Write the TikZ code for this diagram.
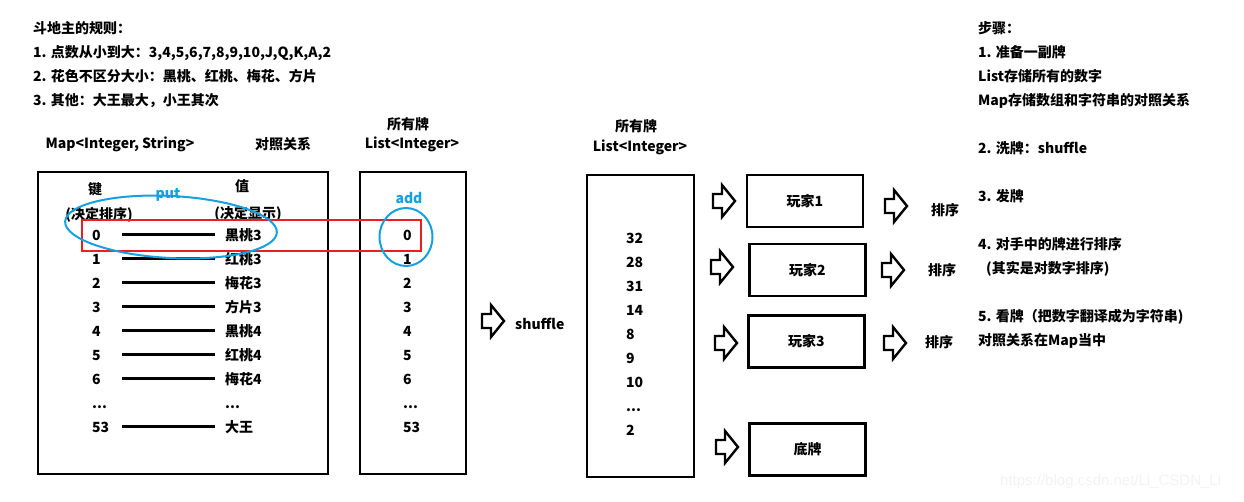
\documentclass[tikz,border=0pt]{standalone}
\usepackage{fontspec}
\setmainfont{Noto Sans CJK SC}
\newfontfamily\markfont{Liberation Sans}
\usetikzlibrary{shapes.geometric}
\definecolor{putblue}{RGB}{20,160,225}
\definecolor{pickred}{RGB}{235,30,40}
\newcommand\etcdots{...}
\tikzset{
  txt/.style = {anchor=base west, inner sep=0pt,
    font=\fontsize{14}{24}\selectfont\bfseries},% left aligned text
  mid/.style = {txt, anchor=center},% centred text
  hint/.style = {mid, text=putblue},% blue remarks
  box/.style = {draw, line width=2.6pt, inner sep=0pt},
  link/.style = {line width=2.6pt},% key -- value
  ring/.style = {ellipse, draw=putblue, line width=2pt},
  pick/.style = {draw=pickred, line width=2pt},
  hollow arrow/.pic = {\draw[line width=2.4pt]
    (-11,-7) -- (-2,-7) -- (-2,-16) -- (11,0) -- (-2,16) -- (-2,7) -- (-11,7) -- cycle;}
}

\begin{document}
\begin{tikzpicture}[x=1pt, y=-1pt]
\useasboundingbox (0,0) rectangle (1244,501);

% rules and steps
\node[txt, align=left, anchor=north west] (rules) at (33,21.5) {斗地主的规则：\\
  1. 点数从小到大：3,4,5,6,7,8,9,10,J,Q,K,A,2\\
  2. 花色不区分大小：黑桃、红桃、梅花、方片\\
  3. 其他：大王最大，小王其次};
\node[txt, align=left, anchor=north west] (steps) at (978,21) {步骤：\\
  1. 准备一副牌\\ List存储所有的数字\\ Map存储数组和字符串的对照关系\\ \mbox{}\\
  2. 洗牌：shuffle\\ \mbox{}\\
  3. 发牌\\ \mbox{}\\
  4. 对手中的牌进行排序\\ \hspace{8pt}(其实是对数字排序)\\ \mbox{}\\
  5. 看牌（把数字翻译成为字符串)\\ 对照关系在Map当中};

% map and ordered list
\node[mid] (maphead) at (120,144) {Map<Integer, String>};
\node[mid] (relhead) at (283,144) {对照关系};
\node[mid] (allA) at (408,124) {所有牌};
\node[mid] (listA) at (412,144) {List<Integer>};
\node[box, minimum width=290, minimum height=302] (map) at (183,323) {};
\node[box, minimum width=106, minimum height=302] (list) at (413,323) {};
\node[mid] (keyhead) at (95,189) {键};
\node[mid] (valhead) at (242,186) {值};
\node[mid] (keynote) at (99,215) {(决定排序)};
\node[mid] (valnote) at (248,214) {(决定显示)};
\node[hint] (put) at (168,195) {put};
\node[hint] (add) at (409,198) {add};
\foreach \k/\v/\y [count=\i] in {0/黑桃3/240, 1/红桃3/264, 2/梅花3/288, 3/方片3/312,
    4/黑桃4/336, 5/红桃4/360, 6/梅花4/384, \etcdots/\etcdots/408, 53/大王/432}{
  \node[txt] (k\i) at (92,\y) {\k};
  \node[txt] (v\i) at (225,\y) {\v};
  \node[txt] (l\i) at (403,\y) {\k};
}
\foreach \i in {1,2,3,4,5,6,7,9}
  \draw[link] ([xshift=30pt,yshift=5.5pt]k\i.base west) -- ([xshift=-10pt,yshift=5.5pt]v\i.base west);
\node[pick, minimum width=339, minimum height=31] (row) at (251.5,235.5) {};
\node[ring, minimum width=212, minimum height=62, rotate=-3] (putring) at (171,227) {};
\node[ring, minimum width=53, minimum height=58] (addring) at (406,237) {};

% shuffled list
\pic at (493,321) {hollow arrow};
\node[txt, anchor=west] (shuffle) at (515,324) {shuffle};
\node[mid] (allB) at (636,126) {所有牌};
\node[mid] (listB) at (640,147) {List<Integer>};
\node[box, minimum width=107, minimum height=302] (mixed) at (640.5,326) {};
\foreach \n [count=\i] in {32,28,31,14,8,9,10,\etcdots,2}
  \node[txt] (m\i) at (626,{243+24*(\i-1)}) {\n};

% players
\foreach \who/\x/\y/\ax/\ay in {玩家1/805/201/724/201, 玩家2/807.5/270/722/267,
    玩家3/806.5/341.5/726/343, 底牌/807.5/449.5/727/447}{
  \node[box, minimum width=116, minimum height=52,
    font=\fontsize{14}{16}\selectfont\bfseries] (p\who) at (\x,\y) {\who};
  \pic at (\ax,\ay) {hollow arrow};
}
\foreach \ax/\ay/\sx/\sy [count=\i] in {896/206/945/210, 893/270/942/270, 895/343/939/342}{
  \pic at (\ax,\ay) {hollow arrow};
  \node[mid] (sort\i) at (\sx,\sy) {排序};
}

\node[anchor=west, inner sep=0pt, text=black!5,
  font=\markfont\fontsize{15}{17}\selectfont] (mark) at (1000,482) {https://blog.csdn.net/Li\_CSDN\_Li};
\end{tikzpicture}
\end{document}
